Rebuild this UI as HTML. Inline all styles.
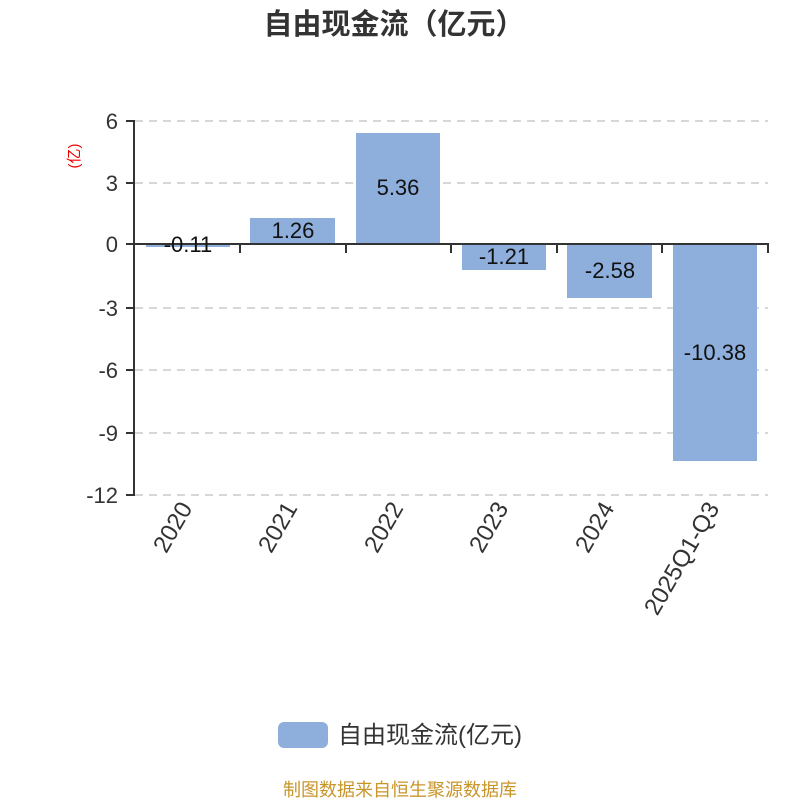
<!DOCTYPE html>
<html><head><meta charset="utf-8"><style>
body{margin:0;background:#fff}
svg text{font-family:"Liberation Sans","Noto Sans CJK SC",sans-serif}
</style></head><body>
<svg width="800" height="800" xmlns="http://www.w3.org/2000/svg">
<text x="394" y="34" text-anchor="middle" font-size="29" font-weight="bold" fill="#333">自由现金流（亿元）</text>
<text transform="translate(79,156) rotate(-90)" text-anchor="middle" font-size="15" fill="#e00">(亿)</text>
<g stroke="#ccc" stroke-width="1.5" stroke-dasharray="8,6">
<line x1="135" y1="121" x2="768" y2="121"/>
<line x1="135" y1="183" x2="768" y2="183"/>
<line x1="135" y1="308" x2="768" y2="308"/>
<line x1="135" y1="370" x2="768" y2="370"/>
<line x1="135" y1="433" x2="768" y2="433"/>
<line x1="135" y1="495" x2="768" y2="495"/>
</g>
<g fill="#8eaedb">
<rect x="146" y="244" width="84" height="3"/>
<rect x="250" y="218" width="85" height="26"/>
<rect x="356" y="133" width="84" height="111"/>
<rect x="462" y="244" width="84" height="26"/>
<rect x="567" y="244" width="85" height="54"/>
<rect x="673" y="244" width="84" height="217"/>
</g>
<g stroke="#333" stroke-width="2">
<line x1="134" y1="120" x2="134" y2="496"/>
<line x1="126" y1="121" x2="134" y2="121"/>
<line x1="126" y1="183" x2="134" y2="183"/>
<line x1="126" y1="244" x2="134" y2="244"/>
<line x1="126" y1="308" x2="134" y2="308"/>
<line x1="126" y1="370" x2="134" y2="370"/>
<line x1="126" y1="433" x2="134" y2="433"/>
<line x1="126" y1="495" x2="134" y2="495"/>
<line x1="134" y1="244" x2="769" y2="244"/>
<line x1="240" y1="244" x2="240" y2="253"/>
<line x1="346" y1="244" x2="346" y2="253"/>
<line x1="451" y1="244" x2="451" y2="253"/>
<line x1="557" y1="244" x2="557" y2="253"/>
<line x1="662" y1="244" x2="662" y2="253"/>
<line x1="768" y1="244" x2="768" y2="253"/>
</g>
<g font-size="22" fill="#333" text-anchor="end">
<text x="118" y="129">6</text>
<text x="118" y="191">3</text>
<text x="118" y="252">0</text>
<text x="118" y="316">-3</text>
<text x="118" y="378">-6</text>
<text x="118" y="441">-9</text>
<text x="118" y="503">-12</text>
</g>
<g font-size="22" fill="#111" text-anchor="middle">
<text x="188" y="252">-0.11</text>
<text x="293" y="238">1.26</text>
<text x="398" y="195">5.36</text>
<text x="504" y="264">-1.21</text>
<text x="610" y="278">-2.58</text>
<text x="715" y="360">-10.38</text>
</g>
<g font-size="24" fill="#333" text-anchor="end">
<text transform="translate(193,508) rotate(-60)">2020</text>
<text transform="translate(298,508) rotate(-60)">2021</text>
<text transform="translate(404,508) rotate(-60)">2022</text>
<text transform="translate(509,508) rotate(-60)">2023</text>
<text transform="translate(615,508) rotate(-60)">2024</text>
<text transform="translate(720,508) rotate(-60)">2025Q1-Q3</text>
</g>
<rect x="278" y="722" width="50" height="26" rx="6" fill="#8eaedb"/>
<text x="338" y="743" font-size="24" fill="#333">自由现金流(亿元)</text>
<text x="400" y="796" text-anchor="middle" font-size="18" fill="#c8952a">制图数据来自恒生聚源数据库</text>
</svg>
</body></html>
